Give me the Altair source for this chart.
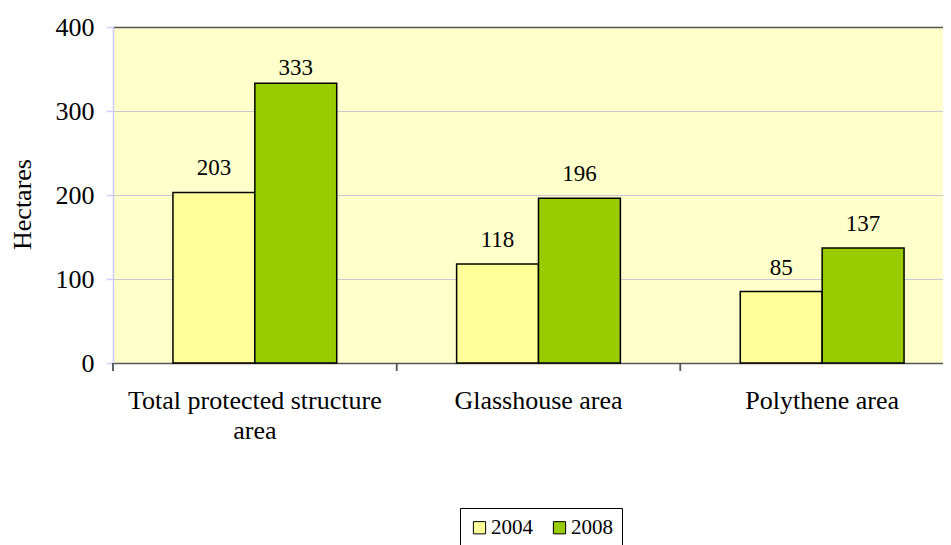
import altair as alt
import pandas as pd

categories = ["Total protected structure area", "Glasshouse area", "Polythene area"]
category_lines = [["Total protected structure", "area"], ["Glasshouse area"], ["Polythene area"]]
years = ["2004", "2008"]
values_2004 = [203, 118, 85]
values_2008 = [333, 196, 137]
y_ticks = [0, 100, 200, 300, 400]

rows = []
for c, v4, v8 in zip(categories, values_2004, values_2008):
    rows.append({"category": c, "year": "2004", "value": v4})
    rows.append({"category": c, "year": "2008", "value": v8})
df = pd.DataFrame(rows)

FONT = "Liberation Serif"

# multi-line label expression built from the label list
parts = []
for c, lines in zip(categories, category_lines):
    if len(lines) > 1:
        arr = "[" + ", ".join("'" + l + "'" for l in lines) + "]"
        parts.append(f"datum.value == '{c}' ? {arr} : ")
label_expr = "".join(parts) + "datum.value"

x_scale = alt.Scale(domain=categories, range=[0, 851], paddingInner=0, paddingOuter=0)
xo_scale = alt.Scale(domain=years, paddingInner=0, paddingOuter=0.732)
y_scale = alt.Scale(domain=[0, 400], nice=False)
color_scale = alt.Scale(domain=years, range=["#FFFF99", "#99CC00"])

bars = alt.Chart(df).mark_bar(stroke="black", strokeWidth=1.5).encode(
    x=alt.X(
        "category:N", scale=x_scale, sort=categories,
        axis=alt.Axis(
            title=None, orient="bottom", ticks=False, tickSize=0, labelPadding=24,
            labelFont=FONT, labelFontSize=26, labelColor="black", labelLineHeight=30,
            labelExpr=label_expr, labelAngle=0, labelLimit=500,
            domainColor="#555555", domainWidth=1.5, grid=False,
        ),
    ),
    xOffset=alt.XOffset("year:N", scale=xo_scale, sort=years),
    y=alt.Y(
        "value:Q", scale=y_scale,
        axis=alt.Axis(
            title="Hectares", values=y_ticks, grid=True, gridColor="#C8C8D0", gridWidth=1,
            domainColor="#CCCCFF", domainWidth=1.5, tickColor="#CCCCFF", tickSize=7, tickWidth=1.5,
            labelPadding=12, labelFont=FONT, labelFontSize=26, labelColor="black",
            titleFont=FONT, titleFontSize=26, titleFontWeight="normal", titleColor="black",
            titleX=-91, titleY=177, titleAngle=-90, titleAlign="center", titleBaseline="middle",
        ),
    ),
    color=alt.Color(
        "year:N", scale=color_scale, sort=years,
        legend=alt.Legend(
            title=None, orient="none", legendX=347, legendY=481, direction="horizontal",
            strokeColor="black", fillColor="white", padding=9,
            symbolType="square", symbolSize=150, symbolStrokeColor="black", symbolStrokeWidth=1,
            labelFont=FONT, labelFontSize=21, labelColor="black", columnPadding=16, labelOffset=1,
        ),
    ),
)

ticks = alt.Chart(df).mark_rule(color="#555555", strokeWidth=1.5).encode(
    x=alt.X(
        "category:N", bandPosition=0, scale=x_scale, sort=categories,
        axis=alt.Axis(orient="top", labels=False, ticks=False, title=None,
                      domainColor="#555555", domainWidth=1.5, grid=False),
    ),
    y=alt.value(336),
    y2=alt.value(344),
)

def labels(filter_expr, dy):
    return alt.Chart(df).transform_filter(filter_expr).mark_text(
        dy=dy, baseline="alphabetic", font=FONT, fontSize=23, color="black"
    ).encode(
        x=alt.X("category:N", scale=x_scale, sort=categories, axis=None),
        xOffset=alt.XOffset("year:N", scale=xo_scale, sort=years),
        y=alt.Y("value:Q", scale=y_scale, axis=None),
        text=alt.Text("value:Q"),
    )

text_low = labels("datum.value < 300", -17)
text_high = labels("datum.value >= 300", -8)

chart = alt.layer(bars, ticks, text_low, text_high).resolve_axis(
    x="independent", y="independent"
).properties(
    width=830,
    height=336,
    autosize=alt.AutoSizeParams(type="none"),
    padding={"left": 105, "top": 19, "right": 0, "bottom": 182},
).configure_view(fill="#FFFFCC", stroke=None)

chart.save("out.html", embed_options={"renderer": "svg", "actions": False})
